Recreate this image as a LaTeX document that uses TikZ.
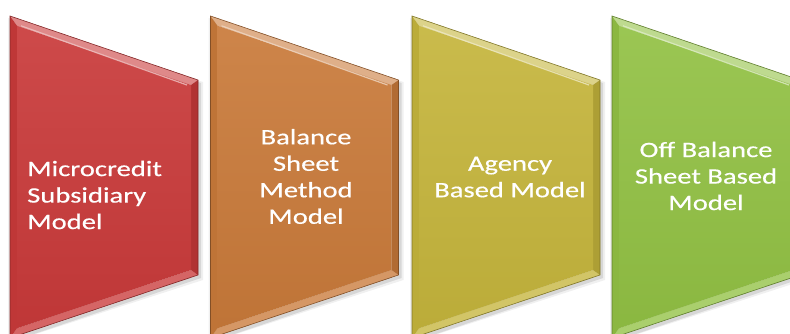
\documentclass[tikz,border=0pt]{standalone}
\usepackage{fontspec}
\setmainfont{Carlito}
\newfontfamily\widefont[FakeStretch=1.3,FakeBold=0.4]{Carlito}
\definecolor{cRed}{RGB}{201,58,58}
\definecolor{cOrange}{RGB}{201,122,58}
\definecolor{cYellow}{RGB}{197,181,60}
\definecolor{cGreen}{RGB}{146,193,68}
\tikzset{
  lbl/.style={text=white, font=\widefont\fontsize{22}{26.5}\selectfont, align=center, inner sep=0pt},
}
\begin{document}
\begin{tikzpicture}[x=1pt,y=1pt]
\useasboundingbox (0,0) rectangle (790,333);
\clip (0,0) rectangle (790,333);
\fill[white] (0,0) rectangle (790,333);
\foreach \L/\c in {10/cRed, 210.5/cOrange, 412/cYellow, 612/cGreen}{
  \pgfmathsetmacro\R{\L+188}
  \pgfmathsetmacro\Li{\L+7}
  \pgfmathsetmacro\Ri{\R-7}
  \coordinate (tl) at (\L,317);
  \coordinate (tr) at (\R,253);
  \coordinate (br) at (\R,58);
  \coordinate (bl) at (\L,-5);
  \coordinate (itl) at (\Li,307.2);
  \coordinate (itr) at (\Ri,248);
  \coordinate (ibr) at (\Ri,63);
  \coordinate (ibl) at (\Li,4.7);
  % soft shadow
  \fill[black,opacity=0.10] ([shift={(3,-3)}]tl) -- ([shift={(3,-3)}]tr) -- ([shift={(3,-3)}]br) -- ([shift={(3,-3)}]bl) -- cycle;
  \fill[black,opacity=0.06] ([shift={(-2,-2)}]tl) -- ([shift={(5,-2)}]tr) -- ([shift={(5,-5)}]br) -- ([shift={(-2,-5)}]bl) -- cycle;
  % bevel strips
  \fill[\c!60!white] (tl) -- (tr) -- (itr) -- (itl) -- cycle;
  \fill[\c!78!white] (bl) -- (br) -- (ibr) -- (ibl) -- cycle;
  \fill[\c!95!black] (tl) -- (itl) -- (ibl) -- (bl) -- cycle;
  \fill[\c!88!black] (tr) -- (br) -- (ibr) -- (itr) -- cycle;
  % face
  \shade[top color=\c!92!white, bottom color=\c!95!black] (itl) -- (itr) -- (ibr) -- (ibl) -- cycle;
  % highlight line along top inner edge
  \draw[\c!30!white, line width=1.2pt, opacity=0.8] ([shift={(4,0)}]itl) -- ([shift={(-4,0)}]itr);
  % outline
  \draw[\c!65!black, line width=0.6pt] (tl) -- (tr) -- (br) -- (bl) -- cycle;
}
\node[lbl, anchor=west, align=left] (t1) at (27,138) {Microcredit\\Subsidiary\\Model};
\node[lbl] (t2) at (306,156.5) {Balance\\Sheet\\Method\\Model};
\node[lbl] (t3) at (510,156) {Agency\\Based Model};
\node[lbl] (t4) at (706,157) {Off Balance\\Sheet Based\\Model};
\end{tikzpicture}
\end{document}
